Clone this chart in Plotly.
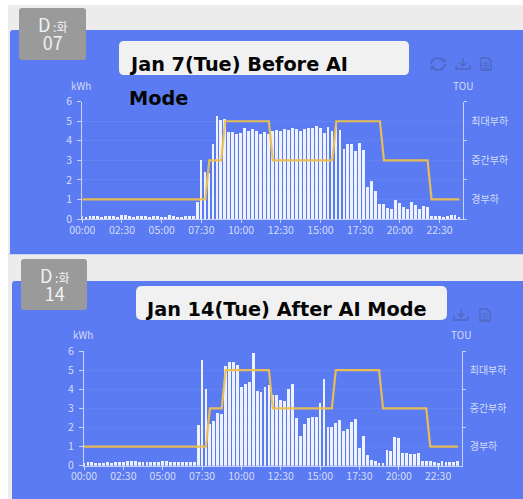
import plotly.graph_objects as go

W, H = 523, 499
times = [f"{h:02d}:{m:02d}" for h in range(24) for m in (0, 15, 30, 45)]
tick_labels = times[::10]

before_kwh = [.15,.12,.18,.18,.15,.12,.18,.18,.15,.12,.22,.2,.15,.12,.18,.17,.15,.12,.18,.17,.12,.13,.2,.17,.13,.12,.18,.18,.15,
              .9,3.05,2.4,2.35,3.85,5.3,5.1,5.15,4.45,4.45,4.35,4.4,4.65,4.5,4.6,4.5,4.35,4.45,4.35,
              4.5,4.55,4.5,4.6,4.55,4.65,4.6,4.5,4.6,4.65,4.65,4.75,4.65,4.4,4.7,4.5,4.75,4.55,
              3.6,3.85,3.85,3.5,3.9,3.55,1.65,1.95,1.45,.8,.8,.6,.55,1.0,.85,.65,.55,.9,.75,.55,.7,.65,
              .15,.17,.18,.13,.15,.2,.2,.12]
after_kwh = [.15,.18,.2,.16,.15,.16,.2,.15,.17,.2,.2,.22,.25,.25,.2,.18,.18,.17,.18,.2,.25,.22,.2,.18,.2,.18,.2,.18,.17,
             2.15,5.55,4.0,2.2,2.35,2.75,2.7,5.2,5.4,5.4,5.25,4.1,4.3,4.4,5.9,3.9,3.85,4.1,4.2,
             3.7,3.7,3.45,3.4,4.0,4.25,2.5,1.55,2.2,2.5,2.55,2.55,3.3,4.55,2.05,2.0,2.25,2.4,
             1.8,1.9,2.3,2.45,.95,1.55,.55,.3,.25,.12,.12,.8,.75,1.5,1.45,.65,.65,.6,.62,.65,
             .25,.25,.22,.2,.15,.25,.2,.17,.17,.22]
tou_levels = ["경부하", "중간부하", "최대부하"]
LOW, MID, PEAK = tou_levels
tou = [LOW]*32 + [MID]*4 + [PEAK]*12 + [MID]*16 + [PEAK]*12 + [MID]*12 + [LOW]*8

BLUE = "#5a7bf1"
GRAY_BG = "#ececec"
TAB = "#9a9a9a"
PALE = "#c9d3fa"
LABEL = "#d5dcfb"
GRID = "#6483f3"
BAR = "#eef1fe"
LINE = "#f0c04f"
ICON = "#4f68bd"
FONT = "Noto Sans CJK KR"
TITLE_FONT = "DejaVu Sans"


def X(x):
    return x / W


def Y(y):
    return 1 - y / H


def pt(x, y):
    return f"{X(x):.5f},{Y(y):.5f}"


def rrect(x0, y0, x1, y1, r, color, layer="below", corners=(1, 1, 1, 1)):
    tl, tr, br, bl = [r * c for c in corners]
    d = (f"M{pt(x0+tl,y0)} L{pt(x1-tr,y0)} Q{pt(x1,y0)} {pt(x1,y0+tr)} "
         f"L{pt(x1,y1-br)} Q{pt(x1,y1)} {pt(x1-br,y1)} "
         f"L{pt(x0+bl,y1)} Q{pt(x0,y1)} {pt(x0,y1-bl)} "
         f"L{pt(x0,y0+tl)} Q{pt(x0,y0)} {pt(x0+tl,y0)} Z")
    return dict(type="path", xref="paper", yref="paper", path=d, fillcolor=color,
                line=dict(width=0), layer=layer)


def stroke(d, width=1.3, color=ICON):
    return dict(type="path", xref="paper", yref="paper", path=d, line=dict(color=color, width=width),
                layer="below")


def download_icon(cx, cy):
    return [
        stroke(f"M{pt(cx,cy-6)} L{pt(cx,cy+2)} M{pt(cx-3.5,cy-1.5)} L{pt(cx,cy+2)} L{pt(cx+3.5,cy-1.5)}"),
        stroke(f"M{pt(cx-7,cy+1)} L{pt(cx-7,cy+5)} L{pt(cx+7,cy+5)} L{pt(cx+7,cy+1)}"),
    ]


def doc_icon(cx, cy):
    return [
        stroke(f"M{pt(cx-5,cy-6)} L{pt(cx+2,cy-6)} L{pt(cx+5,cy-3)} L{pt(cx+5,cy+6)} L{pt(cx-5,cy+6)} Z"),
        stroke(f"M{pt(cx-3,cy-1)} L{pt(cx+3,cy-1)} M{pt(cx-3,cy+1.5)} L{pt(cx+3,cy+1.5)} M{pt(cx-3,cy+4)} L{pt(cx+3,cy+4)}", 1),
    ]


def refresh_icon(cx, cy):
    return [
        stroke(f"M{pt(cx-7,cy)} Q{pt(cx-6,cy-6)} {pt(cx,cy-6)} Q{pt(cx+4,cy-6)} {pt(cx+6,cy-3)} "
               f"M{pt(cx+7,cy)} Q{pt(cx+6,cy+6)} {pt(cx,cy+6)} Q{pt(cx-4,cy+6)} {pt(cx-6,cy+3)}", 1.6),
        stroke(f"M{pt(cx+7,cy-6)} L{pt(cx+7,cy-2)} L{pt(cx+3,cy-2)}", 1.2),
        stroke(f"M{pt(cx-7,cy+6)} L{pt(cx-7,cy+2)} L{pt(cx-3,cy+2)}", 1.2),
    ]


shapes = [
    dict(type="rect", xref="paper", yref="paper", x0=X(8), x1=1, y0=0, y1=Y(5), fillcolor=GRAY_BG,
         line=dict(width=0), layer="below"),
    rrect(10, 30, 530, 254, 3, BLUE, corners=(1, 0, 0, 0)),
    dict(type="rect", xref="paper", yref="paper", x0=X(8), x1=1, y0=Y(255), y1=Y(254), fillcolor="#c9d3f8",
         line=dict(width=0), layer="below"),
    rrect(12, 281, 530, 505, 3, BLUE, corners=(1, 0, 0, 0)),
    rrect(19, 8, 86, 60, 3, TAB),
    rrect(21, 259, 87, 310, 3, TAB),
    rrect(119, 41, 409, 75, 5, "#f1f1f1"),
    rrect(136, 286, 447, 320, 6, "#f1f1f1"),
]
shapes += refresh_icon(438, 64) + download_icon(463, 64) + doc_icon(486, 64)
shapes += download_icon(461, 315) + doc_icon(485, 315)


def txt(x, y, s, size, color, anchor="center", bold=False, family=FONT):
    return dict(xref="paper", yref="paper", x=X(x), y=Y(y), text=f"<b>{s}</b>" if bold else s, showarrow=False,
                xanchor=anchor, yanchor="middle", xshift=0, font=dict(size=size, color=color, family=family),
                borderpad=0, borderwidth=0)


def tab(day):
    return ('<span style="font-size:18px">D</span><span style="font-size:12px"> :화</span><br>'
            f'<span style="font-size:18px">{day}</span>')


annotations = [
    txt(52, 33, tab("07"), 14, "#f2f2f2", family="Noto Sans CJK KR"),
    txt(54, 284, tab("14"), 14, "#f2f2f2", family="Noto Sans CJK KR"),
    txt(129, 64, "Jan 7(Tue) Before AI", 19.3, "#050505", "left", True, TITLE_FONT),
    txt(129, 98.5, "Mode", 19.3, "#050505", "left", True, TITLE_FONT),
    txt(145, 309, "Jan 14(Tue) After AI Mode", 19.3, "#050505", "left", True, TITLE_FONT),
    txt(81, 85, "kWh", 10, LABEL),
    txt(463, 85, "TOU", 10, LABEL),
    txt(83, 334, "kWh", 10, LABEL),
    txt(461, 334, "TOU", 10, LABEL),
]

fig = go.Figure()


def add_panel(idx, kwh, px0, px1, py0, py1):
    sfx = "" if idx == 1 else str(idx)
    xa, ya, ya2 = f"x{sfx}", f"y{sfx if idx == 1 else 3}", f"y{2 if idx == 1 else 4}"
    fig.add_bar(x=times, y=kwh, xaxis=xa, yaxis=ya, marker=dict(color=BAR, line=dict(width=0)), width=0.72,
                showlegend=False)
    fig.add_scatter(x=times, y=tou, xaxis=xa, yaxis=ya2, mode="lines", line=dict(color=LINE, width=2.2),
                    opacity=0.95, showlegend=False)
    xkey = "xaxis" if idx == 1 else f"xaxis{idx}"
    y1key = "yaxis" if idx == 1 else "yaxis3"
    y2key = "yaxis2" if idx == 1 else "yaxis4"
    fig.layout[xkey] = dict(
        domain=[X(px0), X(px1)], anchor=ya, type="category", categoryorder="array", categoryarray=times,
        range=[0, 96], tickmode="array", tickvals=tick_labels, ticktext=tick_labels, automargin=False,
        ticks="outside", ticklen=3, tickcolor=PALE, showline=True, linecolor=PALE, linewidth=1,
        ticklabelstandoff=-2,
        showgrid=False, zeroline=False, tickangle=0, tickfont=dict(size=10.5, color=LABEL, family=FONT))
    fig.layout[y1key] = dict(
        domain=[Y(py1), Y(py0)], anchor=xa, range=[0, 6], tickvals=[0, 1, 2, 3, 4, 5, 6], ticks="outside",
        ticklen=4, tickcolor=PALE, showline=True, linecolor=PALE, linewidth=1, showgrid=True, gridcolor=GRID,
        gridwidth=1, zeroline=False, automargin=False, ticklabelstandoff=3,
        tickfont=dict(size=10.5, color=LABEL, family=FONT))
    fig.layout[y2key] = dict(
        domain=[Y(py1), Y(py0)], anchor=xa, overlaying=ya, side="right", type="category", automargin=False,
        categoryorder="array", categoryarray=tou_levels, range=[-0.5, 2.5], tickson="boundaries", ticks="outside",
        ticklen=3, tickcolor=PALE, showline=True, linecolor=PALE, linewidth=1, showgrid=False, zeroline=False,
        ticklabelstandoff=5, tickfont=dict(size=10, color=LABEL, family=FONT))


add_panel(1, before_kwh, 82.3, 463.3, 101.7, 219)
add_panel(2, after_kwh, 84, 461.7, 351, 465.7)

fig.update_layout(
    width=W, height=H, margin=dict(l=0, r=0, t=0, b=0), autosize=False,
    paper_bgcolor="#ffffff", plot_bgcolor="rgba(0,0,0,0)", showlegend=False, bargap=0,
    shapes=shapes, annotations=annotations,
)
fig.write_html("out.html", config={"displayModeBar": False},
               post_script="document.body.style.margin='0';document.body.style.overflow='hidden';")
